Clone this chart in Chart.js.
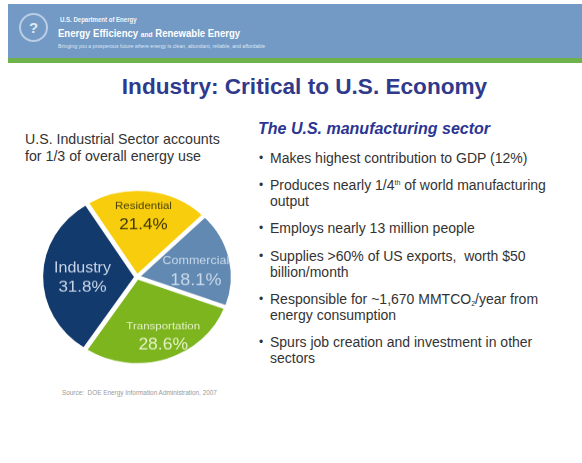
<!DOCTYPE html>
<html>
<head>
<meta charset="utf-8">
<script src="https://cdn.jsdelivr.net/npm/chart.js@4"></script>
<style>
  body { margin: 0; width: 582px; height: 463px; background: #fff; font-family: "Liberation Sans", Arial, sans-serif; position: relative; overflow: hidden; }
  .abs { position: absolute; white-space: nowrap; }
  #band { left: 8px; top: 4px; width: 574px; height: 54px; background: #7399c5; }
  #green { left: 8px; top: 58px; width: 574px; height: 5px; background: #6db24a; }
  #logo { left: 19px; top: 13px; width: 25px; height: 25px; border: 2px solid #b9cde4; border-radius: 50%; color: #dfe9f4; font-size: 15px; text-align: center; line-height: 25px; font-weight: bold; }
  #doe1 { left: 60px; top: 16px; font-size: 6.5px; font-weight: bold; color: #f2f6fb; transform: scaleX(0.93); transform-origin: left; }
  #doe2 { left: 58px; top: 27px; font-size: 11.5px; font-weight: bold; color: #fff; transform: scaleX(0.83); transform-origin: left; }
  #doe2 small { font-size: 8px; }
  #doe3 { left: 58px; top: 43px; font-size: 5.2px; color: #dde7f2; }
  #title { left: 0; width: 609px; top: 74px; text-align: center; font-size: 22.6px; font-weight: bold; color: #2f3a8c; }
  #lefthead { left: 25px; top: 131px; font-size: 14.2px; color: #333; line-height: 17px; }
  #righthead { left: 258px; top: 120px; font-size: 16px; font-weight: bold; font-style: italic; color: #2b3592; }
  ul { position: absolute; left: 259px; top: 150px; margin: 0; padding: 0; list-style: none; font-size: 14px; color: #333; line-height: 16px; }
  li { position: relative; padding-left: 11px; margin-bottom: 11.2px; white-space: nowrap; }
  li::before { content: "\2022"; position: absolute; left: 0; top: 0; font-size: 12px; }
  sup { font-size: 7px; vertical-align: 5px; line-height: 0; }
  sub { font-size: 7px; vertical-align: -2px; line-height: 0; }
  #source { left: 62px; top: 389px; font-size: 6.4px; color: #9a9a9a; }
  #pieWrap { position: absolute; left: 27px; top: 176px; width: 220px; height: 220px; transform: scaleY(0.918); transform-origin: top left; }
</style>
</head>
<body>
<div class="abs" id="band"></div>
<div class="abs" id="green"></div>
<div class="abs" id="logo">?</div>
<div class="abs" id="doe1">U.S. Department of Energy</div>
<div class="abs" id="doe2">Energy Efficiency <small>and</small> Renewable Energy</div>
<div class="abs" id="doe3">Bringing you a prosperous future where energy is clean, abundant, reliable, and affordable</div>

<div class="abs" id="title">Industry: Critical to U.S. Economy</div>

<div class="abs" id="lefthead">U.S. Industrial Sector accounts<br>for 1/3 of overall energy use</div>

<div class="abs" id="righthead">The U.S. manufacturing sector</div>
<ul>
  <li>Makes highest contribution to GDP (12%)</li>
  <li>Produces nearly 1/4<sup>th</sup> of world manufacturing<br>output</li>
  <li>Employs nearly 13 million people</li>
  <li>Supplies &gt;60% of US exports,&nbsp; worth $50<br>billion/month</li>
  <li>Responsible for ~1,670 MMTCO<sub>2</sub>/year from<br>energy consumption</li>
  <li>Spurs job creation and investment in other<br>sectors</li>
</ul>

<div id="pieWrap"><canvas id="pie" width="220" height="220"></canvas></div>
<div class="abs" id="source">Source:&nbsp; DOE Energy Information Administration, 2007</div>

<script>
const sectors = ['Residential', 'Commercial', 'Transportation', 'Industry'];
const shares = [21.4, 18.1, 28.6, 31.8];
const sliceColors = ['#f7cd0e', '#6189b2', '#7cb51e', '#133a6c'];
const nameColors = ['#4d4300', '#c9d8ea', '#e5f1c6', '#c9d6ea'];
const pctColors = ['#3d3600', '#c9d8ea', '#e5f1c6', '#c9d6ea'];
const nameSizes = [11.5, 12.5, 11.5, 16];
const pctSizes = [17, 18, 17.5, 17];
// label placement: fraction of radius along the slice's middle, plus angle shift in degrees
const labelDist = [0.71, 0.63, 0.74, 0.58];
const labelTurn = [-1, 6, -4, -2];

const sliceLabels = {
  id: 'sliceLabels',
  afterDatasetsDraw(chart) {
    const ctx = chart.ctx;
    const meta = chart.getDatasetMeta(0);
    meta.data.forEach((arc, i) => {
      const mid = (arc.startAngle + arc.endAngle) / 2 + labelTurn[i] * Math.PI / 180;
      const r = arc.outerRadius * labelDist[i];
      const x = arc.x + Math.cos(mid) * r;
      const y = arc.y + Math.sin(mid) * r;
      ctx.save();
      ctx.textAlign = 'center';
      ctx.textBaseline = 'middle';
      ctx.fillStyle = nameColors[i];
      ctx.font = nameSizes[i] + 'px "Liberation Sans", Arial, sans-serif';
      ctx.fillText(sectors[i], x, y - 11);
      ctx.fillStyle = pctColors[i];
      ctx.font = pctSizes[i] + 'px "Liberation Sans", Arial, sans-serif';
      ctx.fillText(shares[i].toFixed(1) + '%', x, y + 10);
      ctx.restore();
    });
  }
};

new Chart(document.getElementById('pie'), {
  type: 'pie',
  data: {
    labels: sectors,
    datasets: [{
      data: shares,
      backgroundColor: sliceColors,
      borderColor: '#ffffff',
      borderWidth: 3,
      offset: 5
    }]
  },
  options: {
    responsive: false,
    animation: false,
    rotation: -32,
    radius: 94,
    layout: { padding: 0 },
    plugins: { legend: { display: false }, tooltip: { enabled: false } }
  },
  plugins: [sliceLabels]
});
</script>
</body>
</html>
